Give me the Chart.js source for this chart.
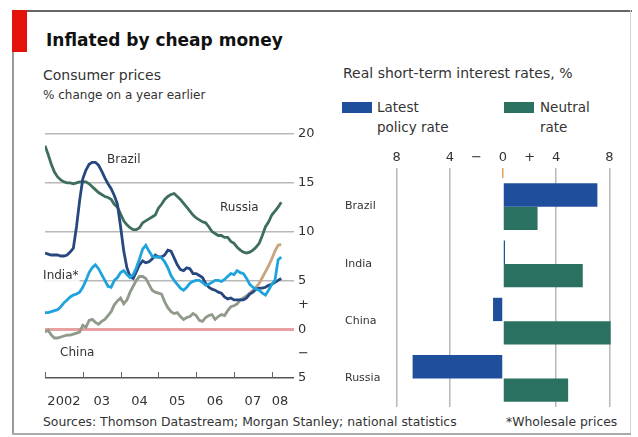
<!DOCTYPE html>
<html lang="en">
<head>
<meta charset="UTF-8" />
<title>Inflated by cheap money</title>
<script src="https://cdn.jsdelivr.net/npm/chart.js"></script>
<style>
  body { margin: 0; background: #fff; font-family: "DejaVu Sans", sans-serif; color: #333; }
  #page { position: relative; width: 638px; height: 437px; overflow: hidden; background: #fff; }
  canvas { position: absolute; left: 0; top: 0; }
  .txt { position: absolute; white-space: nowrap; line-height: 1; }
  .rule { position: absolute; }
  .swatch { position: absolute; width: 30px; height: 11px; }
</style>
</head>
<body>
<div id="page">
  <div class="rule" style="left:12px;top:10px;width:620px;height:2px;background:#666"></div>
  <div class="rule" style="left:12px;top:10px;width:2px;height:424px;background:#999"></div>
  <div class="rule" style="left:630px;top:10px;width:1px;height:424px;background:#d4d4d4"></div>
  <div class="rule" style="left:12px;top:433px;width:619px;height:2px;background:#aaa"></div>
  <div class="rule" style="left:12px;top:10px;width:15px;height:42px;background:#e3120b"></div>

  <div class="txt" style="left:46px;top:32px;font-size:17px;font-weight:bold;color:#111">Inflated by cheap money</div>
  <div class="txt" style="left:43px;top:68px;font-size:14px">Consumer prices</div>
  <div class="txt" style="left:43px;top:89px;font-size:12px">% change on a year earlier</div>
  <div class="txt" style="left:343px;top:66px;font-size:14px">Real short-term interest rates, %</div>

  <div class="swatch" style="left:342px;top:102px;background:#1f4f9c"></div>
  <div class="txt" style="left:377px;top:97px;font-size:13.5px;line-height:20px">Latest<br>policy rate</div>
  <div class="swatch" style="left:504px;top:102px;background:#2b7162"></div>
  <div class="txt" style="left:540px;top:97px;font-size:13.5px;line-height:20px">Neutral<br>rate</div>

  <div class="txt" style="left:43px;top:416px;font-size:12.4px">Sources: Thomson Datastream; Morgan Stanley; national statistics</div>
  <div class="txt" style="left:506px;top:416px;font-size:12.4px">*Wholesale prices</div>

  <canvas id="lineChart" width="638" height="437"></canvas>
  <canvas id="barChart" width="638" height="437"></canvas>
</div>

<script>
  // monthly series, Jan 2002 to Apr 2008, % change on a year earlier
  const startYear = 2002;
  const brazil = [
    7.8, 7.7, 7.6, 7.6, 7.6, 7.5, 7.5, 7.6, 7.9, 8.3, 10.5, 13.2,
    15.4, 16.3, 16.9, 17.1, 17.1, 16.8, 16.2, 15.5, 14.9, 14.4, 13.7, 12.8,
    10.5, 8.0, 6.3, 5.4, 5.2, 5.9, 6.6, 7.0, 6.8, 6.9, 7.2, 7.6,
    7.4, 7.4, 7.6, 8.1, 8.0, 7.3, 6.6, 6.1, 6.0, 6.3, 6.2, 5.7,
    5.7, 5.5, 5.3, 4.7, 4.3, 4.1, 4.0, 3.8, 3.7, 3.3, 3.1, 3.2,
    3.0, 3.0, 3.0, 3.0, 3.2, 3.6, 3.8, 4.1, 4.2, 4.2, 4.3, 4.5,
    4.6, 4.8, 5.0, 5.2
  ];
  const russia = [
    18.8, 17.9, 16.9, 16.1, 15.6, 15.3, 15.1, 15.0, 15.0, 14.9, 15.0, 15.1,
    15.1, 15.1, 14.9, 14.6, 14.3, 14.0, 13.8, 13.6, 13.5, 13.3, 12.8, 12.5,
    11.8, 11.1, 10.7, 10.4, 10.2, 10.2, 10.4, 10.9, 11.1, 11.3, 11.5, 11.7,
    12.4, 12.8, 13.3, 13.6, 13.8, 13.9, 13.6, 13.3, 12.9, 12.5, 12.1, 11.7,
    11.4, 11.2, 11.0, 10.9, 10.5, 10.0, 9.8, 9.6, 9.6, 9.4, 9.4, 9.0,
    8.8, 8.4, 8.1, 7.9, 7.8, 7.9, 8.1, 8.4, 8.8, 9.6, 10.5, 11.0,
    11.7, 12.1, 12.5, 13.0
  ];
  const india = [
    1.7, 1.7, 1.8, 1.9, 2.0, 2.3, 2.7, 3.0, 3.3, 3.5, 3.6, 3.8,
    4.3, 5.0, 5.8, 6.3, 6.6, 6.2, 5.6, 5.0, 4.4, 4.3, 5.0, 5.3,
    5.8, 6.0, 5.6, 5.3, 5.6, 6.3, 7.2, 8.2, 8.6, 8.0, 7.5, 7.4,
    7.4, 7.3, 6.9, 6.3, 5.5, 5.0, 4.6, 4.2, 4.0, 4.3, 4.7, 4.9,
    5.0, 5.0, 4.8, 4.5, 4.6, 4.8, 5.0, 5.0, 4.9, 5.1, 5.4, 5.7,
    5.6, 6.0, 5.8, 5.7, 5.2, 4.6, 4.3, 4.1, 4.0, 3.7, 3.5, 4.0,
    4.6, 5.0, 7.1, 7.4
  ];
  const china = [
    -0.3, -0.1, -0.6, -0.9, -0.9, -0.8, -0.7, -0.6, -0.6, -0.5, -0.4, -0.3,
    0.4, 0.2, 0.9, 1.0, 0.7, 0.5, 0.8, 1.0, 1.4, 1.8, 2.5, 2.9,
    3.2, 2.6, 3.0, 3.8, 4.4, 5.0, 5.4, 5.4, 5.2, 4.6, 4.0, 3.8,
    3.7, 3.6, 2.8, 2.2, 1.8, 1.6, 1.7, 1.3, 1.0, 1.2, 1.3, 1.6,
    1.4, 0.9, 0.8, 1.2, 1.4, 1.5, 1.0, 1.3, 1.5, 1.4, 1.9, 2.3,
    2.4, 2.6, 3.0, 3.2, 3.4, 3.7, 4.0, 4.3, 4.7, 5.3, 5.9, 6.5,
    7.2, 8.0, 8.6, 8.7
  ];
  const yearLabels = ['2002', '03', '04', '05', '06', '07', '08'];

  // real short-term interest rates, %
  const countries = ['Brazil', 'India', 'China', 'Russia'];
  const policyRate = [7.1, 0.15, -0.75, -6.8];
  const neutralRate = [2.6, 6.0, 8.1, 4.9];

  Chart.defaults.font.family = '"DejaVu Sans", sans-serif';
  Chart.defaults.font.size = 12;
  Chart.defaults.color = '#333';

  function toPoints(arr) {
    return arr.map((v, i) => ({ x: startYear + i / 12, y: v }));
  }

  // country names written on the line chart
  const lineLabels = [
    { text: 'Brazil', x: 2003.64, y: 17.3 },
    { text: 'Russia', x: 2006.63, y: 12.4 },
    { text: 'India*', x: 2001.95, y: 5.5, box: true },
    { text: 'China', x: 2002.4, y: -2.4 }
  ];

  const lineExtras = {
    id: 'lineExtras',
    afterDraw(chart) {
      const c = chart.ctx;
      const xs = chart.scales.x, ys = chart.scales.y;
      const bottom = chart.chartArea.bottom;
      c.save();
      c.strokeStyle = '#666';
      c.lineWidth = 1;
      for (let yr = startYear; yr <= startYear + 6; yr++) {
        const px = Math.round(xs.getPixelForValue(yr)) + 0.5;
        c.beginPath();
        c.moveTo(px, bottom);
        c.lineTo(px, bottom - 6);
        c.stroke();
      }
      c.font = '12px "DejaVu Sans", sans-serif';
      c.textBaseline = 'middle';
      lineLabels.forEach(l => {
        const px = xs.getPixelForValue(l.x), py = ys.getPixelForValue(l.y);
        if (l.box) {
          const w = c.measureText(l.text).width;
          c.fillStyle = 'rgba(255,255,255,0.85)';
          c.fillRect(px - 1, py - 8, w + 2, 16);
        }
        c.fillStyle = '#333';
        c.fillText(l.text, px, py);
      });
      c.restore();
    }
  };

  const yGridColor = (v) => {
    if (v === 0) return '#e8a0a0';
    if (v === -5) return '#555';
    if (v % 5 === 0) return '#b8b8b8';
    return 'rgba(0,0,0,0)';
  };

  new Chart(document.getElementById('lineChart'), {
    type: 'line',
    data: {
      datasets: [
        { label: 'India', data: toPoints(india), borderColor: '#1fa3dc', order: 0 },
        { label: 'Brazil', data: toPoints(brazil), borderColor: '#27477f', order: 1 },
        { label: 'Russia', data: toPoints(russia), borderColor: '#3e6e5c', order: 2 },
        {
          label: 'China', data: toPoints(china), borderColor: '#8f9a8a', order: 3,
          segment: { borderColor: s => s.p0.parsed.x >= 2007.4 ? '#c9a480' : undefined }
        }
      ]
    },
    options: {
      responsive: false,
      animation: false,
      events: [],
      elements: {
        line: { borderWidth: 2.8, tension: 0 },
        point: { radius: 0 }
      },
      layout: { padding: { left: 45, top: 134, right: 308, bottom: 29 } },
      plugins: { legend: { display: false }, tooltip: { enabled: false } },
      scales: {
        x: {
          type: 'linear',
          min: 2002,
          max: 2008.376,
          afterBuildTicks: (s) => {
            const t = [];
            for (let i = 0; i < 6; i++) {
              t.push({ value: startYear + i });
              t.push({ value: startYear + i + 0.5 });
            }
            t.push({ value: 2008 });
            t.push({ value: 2008.22 });
            s.ticks = t;
          },
          afterFit: (s) => { s.height = 30; },
          grid: { display: false },
          border: { display: false },
          ticks: {
            autoSkip: false,
            maxRotation: 0,
            padding: 8,
            font: { size: 13 },
            callback: (v) => {
              const frac = v - Math.floor(v);
              if (frac < 0.01) return '';
              return yearLabels[Math.floor(v) - startYear];
            }
          }
        },
        y: {
          position: 'right',
          min: -5,
          max: 20,
          afterFit: (s) => { s.width = 44; },
          border: { display: false },
          grid: {
            tickLength: 8,
            color: (ctx) => yGridColor(ctx.tick.value),
            lineWidth: (ctx) => ctx.tick.value === 0 ? 3 : 1.5
          },
          ticks: {
            stepSize: 2.5,
            padding: 4,
            font: { size: 13 },
            callback: (v) => {
              if (v === 2.5) return '+';
              if (v === -2.5) return '\u2212';
              if (v === -5) return '5';
              if (v % 5 === 0) return String(v);
              return '';
            }
          }
        }
      }
    },
    plugins: [lineExtras]
  });

  const barGrid = (v) => (Math.abs(v) === 4 || Math.abs(v) === 8) ? '#b8b8b8' : 'rgba(0,0,0,0)';

  new Chart(document.getElementById('barChart'), {
    type: 'bar',
    data: {
      labels: countries,
      datasets: [
        { label: 'Latest policy rate', data: policyRate, backgroundColor: '#1f4f9c' },
        { label: 'Neutral rate', data: neutralRate, backgroundColor: '#2b7162' }
      ]
    },
    options: {
      indexAxis: 'y',
      responsive: false,
      animation: false,
      events: [],
      categoryPercentage: 0.815,
      barPercentage: 1,
      layout: { padding: { left: 345, top: 146, right: 22, bottom: 30 } },
      plugins: { legend: { display: false }, tooltip: { enabled: false } },
      scales: {
        x: {
          position: 'top',
          min: -8.5,
          max: 8.5,
          afterBuildTicks: (s) => {
            s.ticks = [-8, -4, -2, 0, 2, 4, 8].map(v => ({ value: v }));
          },
          afterFit: (s) => { s.height = 32; },
          border: { display: false },
          grid: {
            tickLength: 10,
            lineWidth: 1.5,
            color: (ctx) => barGrid(ctx.tick.value),
            tickColor: (ctx) => ctx.tick.value === 0 ? '#e0a060' : barGrid(ctx.tick.value)
          },
          ticks: {
            padding: 3,
            autoSkip: false,
            maxRotation: 0,
            font: { size: 13 },
            callback: (v) => {
              if (v === -2) return '\u2212';
              if (v === 2) return '+';
              return String(Math.abs(v));
            }
          }
        },
        y: {
          afterFit: (s) => { s.width = 45; },
          border: { display: false },
          grid: { display: false },
          ticks: { crossAlign: 'far', padding: 0, font: { size: 11 } }
        }
      }
    }
  });
</script>
</body>
</html>
